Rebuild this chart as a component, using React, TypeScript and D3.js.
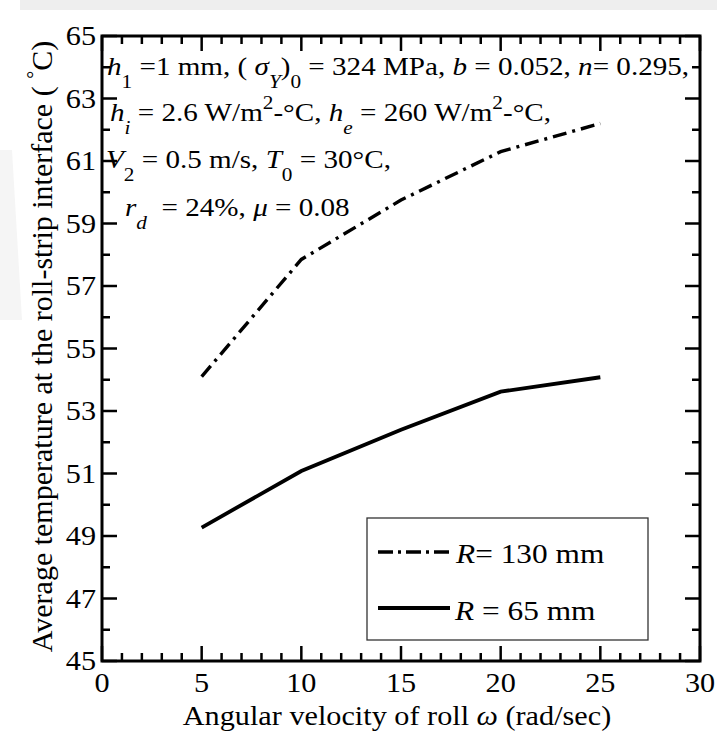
import React from "react";
import * as d3 from "d3";

const omega = [5, 10, 15, 20, 25];
const tempR130 = [54.1, 57.85, 59.75, 61.3, 62.2];
const tempR65 = [49.27, 51.08, 52.4, 53.62, 54.08];
const xMajorTicks = [0, 5, 10, 15, 20, 25, 30];
const yMajorTicks = [45, 47, 49, 51, 53, 55, 57, 59, 61, 63, 65];
const seriesLabels = ["130", "65"];

const W = 717;
const H = 733;
const FONT = "'Liberation Serif', 'Times New Roman', serif";
const SX = 1.12;

const x = d3.scaleLinear().domain([0, 30]).range([102, 700]);
const y = d3.scaleLinear().domain([45, 65]).range([661, 36]);

const xMinor = d3.range(0, 31, 1).filter((v) => !xMajorTicks.includes(v));
const yMinor = d3.range(45, 66, 1).filter((v) => !yMajorTicks.includes(v));

const line = d3
  .line<[number, number]>()
  .x((d) => x(d[0]))
  .y((d) => y(d[1]));

function SText({ x, y, size, anchor = "start", children }: any) {
  return (
    <g transform={`translate(${x},${y}) scale(${SX},1)`}>
      <text
        fontFamily={FONT}
        fontSize={size}
        textAnchor={anchor}
        fill="#000"
        style={{ whiteSpace: "pre" }}
      >
        {children}
      </text>
    </g>
  );
}

const I = ({ children }: any) => <tspan fontStyle="italic">{children}</tspan>;

export default function App() {
  const [x0, x1] = x.range();
  const [y0, y1] = y.range();
  const majorLen = 15;
  const minorLen = 8;
  const sub = 13;
  const subSize = 19;

  return (
    <svg
      width={W}
      height={H}
      viewBox={`0 0 ${W} ${H}`}
      style={{ position: "absolute", left: 0, top: 0, background: "#fff" }}
    >
      <rect x={0} y={0} width={W} height={H} fill="#fff" />
      {/* faint watermark */}
      <rect x={20} y={0} width={697} height={10} fill="#eeeeee" />
      <polygon points="0,150 12,150 22,320 0,320" fill="#f5f5f5" />

      {/* ticks */}
      {xMajorTicks.map((v) => (
        <g key={"xm" + v} stroke="#000" strokeWidth={2.5}>
          <line x1={x(v)} x2={x(v)} y1={y0} y2={y0 - majorLen} />
          <line x1={x(v)} x2={x(v)} y1={y1} y2={y1 + majorLen} />
        </g>
      ))}
      {xMinor.map((v) => (
        <g key={"xn" + v} stroke="#000" strokeWidth={2.5}>
          <line x1={x(v)} x2={x(v)} y1={y0} y2={y0 - minorLen} />
          <line x1={x(v)} x2={x(v)} y1={y1} y2={y1 + minorLen} />
        </g>
      ))}
      {yMajorTicks.map((v) => (
        <g key={"ym" + v} stroke="#000" strokeWidth={2.5}>
          <line x1={x0} x2={x0 + majorLen} y1={y(v)} y2={y(v)} />
          <line x1={x1} x2={x1 - majorLen} y1={y(v)} y2={y(v)} />
        </g>
      ))}
      {yMinor.map((v) => (
        <g key={"yn" + v} stroke="#000" strokeWidth={2.5}>
          <line x1={x0} x2={x0 + minorLen} y1={y(v)} y2={y(v)} />
          <line x1={x1} x2={x1 - minorLen} y1={y(v)} y2={y(v)} />
        </g>
      ))}

      {/* frame */}
      <rect x={x0} y={y1} width={x1 - x0} height={y0 - y1} fill="none" stroke="#000" strokeWidth={3} />

      {/* tick labels */}
      {xMajorTicks.map((v) => (
        <SText key={"xl" + v} x={x(v)} y={692} size={27} anchor="middle">
          {String(v)}
        </SText>
      ))}
      {yMajorTicks.map((v) => (
        <SText key={"yl" + v} x={96} y={y(v) + 9} size={27} anchor="end">
          {String(v)}
        </SText>
      ))}

      {/* axis titles */}
      <SText x={(x0 + x1) / 2 - 4} y={725} size={27} anchor="middle">
        Angular velocity of roll <I>ω</I> (rad/sec)
      </SText>
      <text
        transform={`translate(52,${(y0 + y1) / 2 - 2}) rotate(-90)`}
        fontFamily={FONT}
        fontSize={30}
        textAnchor="middle"
        fill="#000"
        style={{ whiteSpace: "pre" }}
      >
        Average temperature at the roll-strip interface ({" "}
        <tspan dy={-11} fontSize={20}>°</tspan>
        <tspan dy={11}>C)</tspan>
      </text>

      {/* data lines */}
      <path
        d={line(omega.map((o, i) => [o, tempR130[i]]) as [number, number][]) || ""}
        fill="none"
        stroke="#000"
        strokeWidth={3.4}
        strokeDasharray="14 6 3 6"
      />
      <path
        d={line(omega.map((o, i) => [o, tempR65[i]]) as [number, number][]) || ""}
        fill="none"
        stroke="#000"
        strokeWidth={3.8}
      />

      {/* annotation */}
      <SText x={107} y={75} size={26}>
        <I>h</I>
        <tspan dy={sub} fontSize={subSize}>1</tspan>
        <tspan dy={-sub}> =1 mm, ( </tspan>
        <I>σ</I>
        <tspan dy={sub} fontSize={subSize} fontStyle="italic">Y</tspan>
        <tspan dy={-sub}>)</tspan>
        <tspan dy={sub} fontSize={subSize}>0</tspan>
        <tspan dy={-sub}> = 324 MPa, </tspan>
        <I>b</I>
        <tspan> = 0.052, </tspan>
        <I>n</I>
        <tspan>= 0.295,</tspan>
      </SText>
      <SText x={110} y={121} size={26}>
        <I>h</I>
        <tspan dy={sub} fontSize={subSize} fontStyle="italic">i</tspan>
        <tspan dy={-sub}> = 2.6 W/m</tspan>
        <tspan dy={-12} fontSize={subSize}>2</tspan>
        <tspan dy={12}>-°C, </tspan>
        <I>h</I>
        <tspan dy={sub} fontSize={subSize} fontStyle="italic">e</tspan>
        <tspan dy={-sub}> = 260 W/m</tspan>
        <tspan dy={-12} fontSize={subSize}>2</tspan>
        <tspan dy={12}>-°C,</tspan>
      </SText>
      <SText x={106} y={168} size={26}>
        <I>V</I>
        <tspan dy={sub} fontSize={subSize}>2</tspan>
        <tspan dy={-sub}> = 0.5 m/s, </tspan>
        <I>T</I>
        <tspan dy={sub} fontSize={subSize}>0</tspan>
        <tspan dy={-sub}> = 30°C,</tspan>
      </SText>
      <SText x={125} y={216} size={26}>
        <I>r</I>
        <tspan dy={sub} fontSize={subSize} fontStyle="italic">d</tspan>
        <tspan dy={-sub}>  = 24%, </tspan>
        <I>μ</I>
        <tspan> = 0.08</tspan>
      </SText>

      {/* legend */}
      <rect x={367} y={518} width={281} height={122} fill="#fff" stroke="#333" strokeWidth={1.3} />
      <line x1={378} x2={450} y1={552} y2={552} stroke="#000" strokeWidth={3.4} strokeDasharray="15 5 3 5" />
      <line x1={378} x2={450} y1={608} y2={608} stroke="#000" strokeWidth={3.8} />
      <SText x={456} y={563} size={28}>
        <I>R</I>= {seriesLabels[0]} mm
      </SText>
      <SText x={455} y={620} size={28}>
        <I>R</I> = {seriesLabels[1]} mm
      </SText>
    </svg>
  );
}
